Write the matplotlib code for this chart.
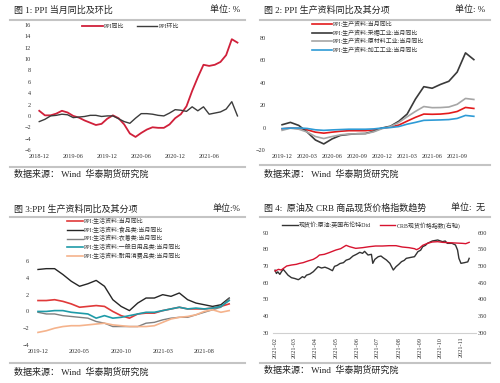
import matplotlib
matplotlib.use('Agg')
import matplotlib.pyplot as plt
import matplotlib.dates as mdates
from matplotlib.lines import Line2D
import pandas as pd

plt.rcParams['font.family'] = ['Liberation Serif', 'Noto Sans CJK SC', 'DejaVu Sans']

W, H = 500, 383

# ---- chart 1: PPI yoy / mom, 2018-12 .. 2021-11
p1_ticks = ['2018-12', '2019-06', '2019-12', '2020-06', '2020-12', '2021-06']
p1_yoy = [0.9, 0.1, 0.1, 0.4, 0.9, 0.6, 0.0, -0.3, -0.8, -1.2, -1.6, -1.4,
          -0.5, 0.1, -0.4, -1.5, -3.1, -3.7, -3.0, -2.4, -2.0, -2.1, -2.1, -1.5,
          -0.4, 0.3, 1.7, 4.4, 6.8, 9.0, 8.8, 9.0, 9.5, 10.7, 13.5, 12.9]
p1_mom = [-1.0, -0.6, 0.0, 0.1, 0.3, 0.2, -0.3, -0.2, -0.1, 0.1, 0.1, -0.1,
          0.0, 0.0, -0.5, -1.0, -1.3, -0.4, 0.4, 0.4, 0.3, 0.1, 0.0, 0.5,
          1.1, 1.0, 0.8, 1.6, 0.9, 1.6, 0.3, 0.5, 0.7, 1.2, 2.5, 0.0]

# ---- chart 2: producer goods, 2019-12 .. 2021-11
p2_ticks = ['2019-12', '2020-03', '2020-06', '2020-09', '2020-12', '2021-03', '2021-06', '2021-09']
p2_total = [-1.2, -0.4, -0.8, -2.0, -4.1, -5.0, -4.1, -3.3, -2.8, -2.8, -2.8, -2.0,
            -0.6, 0.4, 2.2, 5.7, 9.1, 12.0, 11.8, 12.0, 12.7, 14.3, 17.9, 17.0]
p2_mining = [2.5, 4.6, 1.9, -4.0, -11.1, -14.6, -10.1, -7.0, -6.1, -5.5, -5.3, -3.3,
             -0.4, 1.2, 5.6, 12.0, 25.4, 36.4, 35.0, 38.4, 41.2, 49.4, 66.5, 60.5]
p2_raw = [-2.5, -0.6, -1.5, -4.0, -8.0, -9.8, -8.0, -6.5, -5.8, -5.6, -5.5, -3.8,
          -1.0, 0.9, 4.5, 9.6, 14.4, 18.7, 17.7, 17.8, 18.3, 20.7, 25.9, 25.0]
p2_proc = [-0.9, -0.5, -0.4, -0.8, -2.0, -2.5, -2.1, -1.8, -1.5, -1.5, -1.5, -1.2,
           -0.4, 0.0, 0.9, 3.0, 4.6, 6.4, 6.6, 6.8, 7.1, 8.1, 10.8, 10.0]

# ---- chart 3: consumer goods, 2019-12 .. 2021-11
p3_ticks = ['2019-12', '2020-05', '2020-10', '2021-03', '2021-08']
p3_total = [1.3, 1.3, 1.4, 1.2, 0.9, 0.5, 0.6, 0.7, 0.6, 0.0, -0.5, -0.8,
            -0.3, -0.2, -0.2, 0.1, 0.3, 0.5, 0.3, 0.3, 0.3, 0.4, 0.6, 0.9]
p3_food = [5.0, 5.1, 5.1, 4.4, 3.6, 3.0, 3.3, 3.7, 3.0, 1.4, 0.6, 0.1,
           1.0, 1.6, 1.6, 2.0, 1.8, 2.2, 1.4, 1.0, 0.8, 0.6, 0.8, 1.6]
p3_cloth = [-0.1, -0.3, -0.3, -0.5, -0.6, -0.7, -0.8, -1.2, -1.4, -1.8, -1.8, -1.8,
            -1.8, -1.4, -1.3, -1.0, -0.8, -0.7, -0.7, -0.4, -0.1, 0.2, 0.5, 1.5]
p3_daily = [0.0, 0.0, 0.1, 0.1, -0.1, -0.2, -0.3, -0.8, -0.5, -0.8, -0.7, -0.5,
            -0.3, -0.1, -0.1, 0.1, 0.3, 0.5, 0.3, 0.4, 0.3, 0.4, 0.6, 1.3]
p3_durable = [-2.5, -2.3, -2.0, -1.8, -1.7, -1.7, -1.6, -1.5, -1.4, -1.6, -1.7, -1.8,
              -1.8, -1.8, -1.7, -1.3, -0.9, -0.7, -0.6, -0.4, 0.0, 0.2, -0.1, 0.1]

# ---- chart 4: Brent (left) and CRB spot index (right)
brent_dates = ['2021-02-01', '2021-02-03', '2021-02-05', '2021-02-08', '2021-02-11', '2021-02-13',
               '2021-02-17', '2021-02-20', '2021-02-25', '2021-03-02', '2021-03-07', '2021-03-09',
               '2021-03-13', '2021-03-16', '2021-03-19', '2021-03-24', '2021-03-29', '2021-04-05',
               '2021-04-10', '2021-04-15', '2021-04-20', '2021-04-26', '2021-04-29', '2021-05-03',
               '2021-05-07', '2021-05-12', '2021-05-16', '2021-05-21', '2021-05-26', '2021-05-31',
               '2021-06-05', '2021-06-09', '2021-06-12', '2021-06-17', '2021-06-22', '2021-06-24',
               '2021-06-27', '2021-07-02', '2021-07-06', '2021-07-09', '2021-07-14', '2021-07-19',
               '2021-07-24', '2021-07-28', '2021-08-01', '2021-08-05', '2021-08-09', '2021-08-12',
               '2021-08-19', '2021-08-24', '2021-08-29', '2021-09-02', '2021-09-05', '2021-09-09',
               '2021-09-12', '2021-09-19', '2021-09-27', '2021-10-04', '2021-10-08', '2021-10-11',
               '2021-10-18', '2021-10-23', '2021-10-26', '2021-10-28', '2021-10-31', '2021-11-05',
               '2021-11-10', '2021-11-12']
brent_vals = [67.5, 65.5, 66.5, 65.0, 67.0, 68.0,
              66.0, 64.5, 63.0, 62.5, 61.8, 62.3,
              63.6, 63.0, 64.5, 65.2, 66.6, 69.6,
              68.8, 69.3, 68.5, 67.2, 69.8, 70.4,
              71.5, 72.0, 73.5, 74.2, 76.0, 77.0,
              78.2, 77.6, 78.8, 76.6, 77.0, 71.6,
              74.0, 75.6, 76.0, 75.0, 73.6, 71.6,
              67.6, 69.6, 71.0, 72.6, 73.4, 74.6,
              75.2, 75.6, 78.6, 79.5, 81.6, 82.4,
              83.6, 85.0, 85.6, 84.6, 85.0, 83.6,
              83.6, 82.6, 79.6, 74.6, 71.6, 72.0,
              72.5, 74.6]
crb_dates = ['2021-02-01', '2021-02-06', '2021-02-10', '2021-02-14', '2021-02-18', '2021-02-25',
             '2021-03-04', '2021-03-09', '2021-03-14', '2021-03-21', '2021-03-29', '2021-04-03',
             '2021-04-07', '2021-04-14', '2021-04-21', '2021-04-26', '2021-05-01', '2021-05-08',
             '2021-05-16', '2021-05-21', '2021-05-30', '2021-06-09', '2021-06-19', '2021-06-28',
             '2021-07-08', '2021-07-18', '2021-07-28', '2021-08-06', '2021-08-16', '2021-08-24',
             '2021-08-27', '2021-08-31', '2021-09-05', '2021-09-12', '2021-09-19', '2021-09-27',
             '2021-10-04', '2021-10-13', '2021-10-23', '2021-11-02', '2021-11-07', '2021-11-12']
crb_vals = [485, 490, 488, 494, 500, 503,
            505, 508, 510, 515, 520, 526,
            533, 535, 540, 544, 548, 552,
            562, 558, 553, 555, 558, 560,
            560, 561, 561, 557, 555, 552,
            549, 553, 562, 568, 572, 573,
            571, 570, 569, 568, 567, 571]


def fx(x):
    return x / W


def fy(y):
    return 1 - y / H


def rect(l, t, r, b):
    return [l / W, 1 - b / H, (r - l) / W, (b - t) / H]


def header(x0, x1, y_text, y_line, title, unit):
    fig.text(fx(x0 + 4), fy(y_text), title, fontsize=6.5, va='center', ha='left', color='#222222')
    fig.text(fx(x1 - 5), fy(y_text), unit, fontsize=6.5, va='center', ha='right', color='#222222')
    fig.add_artist(Line2D([fx(x0), fx(x1)], [fy(y_line)] * 2, color='#C4C4C4', lw=1.5))


def footer(x0, x1, y_line, y_text):
    fig.add_artist(Line2D([fx(x0), fx(x1)], [fy(y_line)] * 2, color='#C4C4C4', lw=1.5))
    fig.text(fx(x0 + 4), fy(y_text), '数据来源： Wind  华泰期货研究院', fontsize=6.5,
             va='center', ha='left', color='#222222')


def style(ax):
    for s in ax.spines.values():
        s.set_visible(False)
    ax.tick_params(length=0, labelsize=4.5, pad=3, colors='#333333')


def legend(ax, x, y, **kw):
    opts = dict(loc='upper left', bbox_to_anchor=(fx(x), fy(y)), bbox_transform=fig.transFigure,
                frameon=False, fontsize=4.3, borderpad=0, borderaxespad=0,
                handletextpad=0.2, labelcolor='#333333')
    opts.update(kw)
    return ax.legend(**opts)


fig = plt.figure(figsize=(W / 100, H / 100), dpi=100)

# ---------------- chart 1
header(10, 245, 10, 20, '图 1: PPI 当月同比及环比', '单位: %')
ax1 = fig.add_axes(rect(35, 25, 242, 150))
x1 = range(len(p1_yoy))
ax1.plot(x1, p1_yoy, color='#D0203A', lw=1.3, label='PPI同比')
ax1.plot(x1, p1_mom, color='#3C3C3C', lw=1.0, label='PPI环比')
ax1.set_xlim(-0.75, 35.8)
ax1.set_ylim(-6, 16)
ax1.set_yticks(range(-6, 17, 2))
ax1.set_xticks([i * 6 for i in range(len(p1_ticks))])
ax1.set_xticklabels(p1_ticks)
style(ax1)
legend(ax1, 82, 24, ncol=2, handlelength=3.5, columnspacing=2.0)
footer(10, 245, 167, 174)

# ---------------- chart 2
header(260, 490, 10, 20, '图 2: PPI 生产资料同比及其分项', '单位: %')
ax2 = fig.add_axes(rect(270, 22, 478, 150))
x2 = range(len(p2_total))
ax2.plot(x2, p2_total, color='#E31A1C', lw=1.2, label='PPI:生产资料:当月同比')
ax2.plot(x2, p2_mining, color='#3A3A3A', lw=1.2, label='PPI:生产资料:采掘工业:当月同比')
ax2.plot(x2, p2_raw, color='#A6A6A6', lw=1.2, label='PPI:生产资料:原材料工业:当月同比')
ax2.plot(x2, p2_proc, color='#2E9BD6', lw=1.2, label='PPI:生产资料:加工工业:当月同比')
ax2.set_xlim(-1.45, 23.5)
ax2.set_ylim(-20, 94)
ax2.set_yticks(range(-20, 81, 20))
ax2.set_xticks([i * 3 for i in range(len(p2_ticks))])
ax2.set_xticklabels(p2_ticks)
style(ax2)
legend(ax2, 312, 21, handlelength=3.3, labelspacing=0.45)
footer(260, 490, 165, 174)

# ---------------- chart 3
header(10, 245, 209, 217, '图 3:PPI 生产资料同比及其分项', '单位:%')
ax3 = fig.add_axes(rect(33, 220, 240, 345))
x3 = range(len(p3_total))
ax3.plot(x3, p3_total, color='#E03A3A', lw=1.2, label='PPI:生活资料:当月同比')
ax3.plot(x3, p3_food, color='#262626', lw=1.0, label='PPI:生活资料:食品类:当月同比')
ax3.plot(x3, p3_cloth, color='#7F7F7F', lw=1.0, label='PPI:生活资料:衣着类:当月同比')
ax3.plot(x3, p3_daily, color='#1F9BA8', lw=1.2, label='PPI:生活资料:一般日用品类:当月同比')
ax3.plot(x3, p3_durable, color='#F5B38C', lw=1.2, label='PPI:生活资料:耐用消费品类:当月同比')
ax3.set_xlim(-0.6, 24.3)
ax3.set_ylim(-4, 10.9)
ax3.set_yticks(range(-4, 7, 2))
ax3.set_xticks([i * 5 for i in range(len(p3_ticks))])
ax3.set_xticklabels(p3_ticks)
style(ax3)
legend(ax3, 67, 218, handlelength=2.7, labelspacing=0.45)
footer(10, 245, 363, 372)

# ---------------- chart 4
header(260, 490, 208, 217, '图 4:  原油及 CRB 商品现货价格指数趋势', '单位:  无')
ax4 = fig.add_axes(rect(273, 222, 476, 332.7))
ax4r = ax4.twinx()
bd = pd.to_datetime(brent_dates)
cd = pd.to_datetime(crb_dates)
l1, = ax4.plot(bd, brent_vals, color='#333333', lw=1.0, label='现货价:原油:英国布伦特Dtd')
l2, = ax4r.plot(cd, crb_vals, color='#D7132F', lw=1.0, label='CRB现货价格指数(右轴)')
ax4.set_xlim(pd.Timestamp('2021-01-29'), pd.Timestamp('2021-11-22'))
ax4.set_ylim(30, 96.4)
ax4.set_yticks(range(30, 91, 10))
ax4r.set_ylim(300, 632)
ax4r.set_yticks(range(300, 601, 50))
ax4.xaxis.set_major_locator(mdates.MonthLocator())
ax4.xaxis.set_major_formatter(mdates.DateFormatter('%Y-%m'))
style(ax4)
style(ax4r)
ax4r.tick_params(pad=1.5)
ax4.spines['bottom'].set_visible(True)
ax4.spines['bottom'].set_color('#D0D0D0')
ax4.spines['bottom'].set_linewidth(0.8)
for lab in ax4.get_xticklabels():
    lab.set_rotation(90)
legend(ax4, 282, 222, handles=[l1, l2], ncol=2, handlelength=2.6, columnspacing=1.5)
footer(260, 490, 363, 370)

fig.savefig('out.png', dpi=100, facecolor='white')
